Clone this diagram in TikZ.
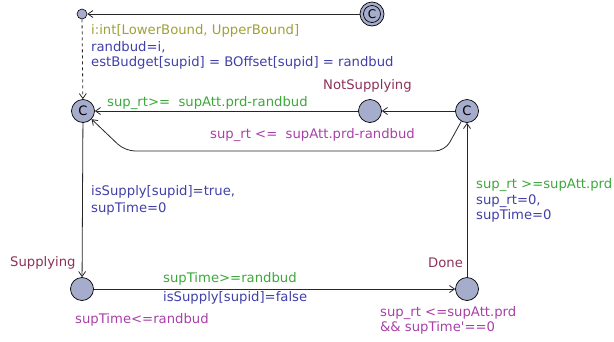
\documentclass[tikz,border=0pt]{standalone}
\usepackage{fontspec}
\setmainfont{DejaVu Sans}
\usetikzlibrary{arrows.meta}
\definecolor{nfill}{RGB}{166,172,204}
\definecolor{cgreen}{RGB}{60,168,60}
\definecolor{cblue}{RGB}{64,64,168}
\definecolor{colive}{RGB}{160,160,56}
\definecolor{cmaroon}{RGB}{140,50,90}
\definecolor{cmag}{RGB}{168,64,168}
\tikzset{
  loc/.style={circle,draw=black,fill=nfill,minimum size=23pt,inner sep=0pt,line width=0.7pt,font=\fontsize{13}{13}\selectfont},
  smallloc/.style={circle,draw=black,fill=nfill,minimum size=10pt,inner sep=0pt,line width=0.6pt},
  edge/.style={draw=black!85,line width=0.8pt,-{Straight Barb[length=5pt,width=7pt]}},
  lbl/.style={anchor=west,inner sep=0pt,font=\fontsize{13.2}{14}\selectfont},
  lname/.style={lbl,text=cmaroon}
}
\begin{document}
\begin{tikzpicture}[x=1pt,y=-1pt]
\useasboundingbox (0,0) rectangle (614,341);
% nodes
\node[smallloc] (init) at (82,14) {};
\node[loc,minimum size=24pt] (start) at (372,14) {};
\draw[line width=0.7pt] (start.center) circle[radius=8.5pt];
\node[font=\fontsize{12}{12}\selectfont,inner sep=0pt] at (start.center) {C};
\node[loc] (lc) at (83,111) {C};
\node[loc] (ns) at (370,111) {};
\node[loc] (rc) at (467,111) {C};
\node[loc] (sup) at (82,289) {};
\node[loc] (done) at (467,289) {};
% edges
\draw[edge] (start) -- (init);
\draw[edge,dashed] (init) -- (lc);
\draw[edge] (ns) -- (lc);
\draw[edge] (rc) -- (ns);
\coordinate (c1) at (445,151);
\coordinate (c2) at (125,151);
\draw[edge,rounded corners=10pt] (rc) -- (c1) -- (c2) -- (lc);
\draw[edge] (lc) -- (sup);
\draw[edge] (sup) -- (done);
\draw[edge] (done) -- (rc);
% labels
\node[lbl,text=colive] at (91,31) {i:int[LowerBound, UpperBound]};
\node[lbl,text=cblue] at (91,47) {randbud=i,};
\node[lbl,text=cblue] at (91,63) {estBudget[supid] = BOffset[supid] = randbud};
\node[lname] at (323,86) {NotSupplying};
\node[lbl,text=cgreen] at (107,103) {sup\_rt>=\ \ supAtt.prd-randbud};
\node[lbl,text=cmag] at (210,135) {sup\_rt <=\ \ supAtt.prd-randbud};
\node[lbl,text=cblue] at (91,192) {isSupply[supid]=true,};
\node[lbl,text=cblue] at (91,209) {supTime=0};
\node[lbl,text=cgreen] at (476,185) {sup\_rt >=supAtt.prd};
\node[lbl,text=cblue] at (476,201) {sup\_rt=0,};
\node[lbl,text=cblue] at (476,216) {supTime=0};
\node[lname] at (10,263) {Supplying};
\node[lname] at (428,263) {Done};
\node[lbl,text=cgreen] at (163,279) {supTime>=randbud};
\node[lbl,text=cblue] at (163,298) {isSupply[supid]=false};
\node[lbl,text=cmag] at (75,320) {supTime<=randbud};
\node[lbl,text=cmag] at (380,313) {sup\_rt <=supAtt.prd};
\node[lbl,text=cmag] at (380,328) {\&\& supTime\textquotesingle==0};
\end{tikzpicture}
\end{document}
